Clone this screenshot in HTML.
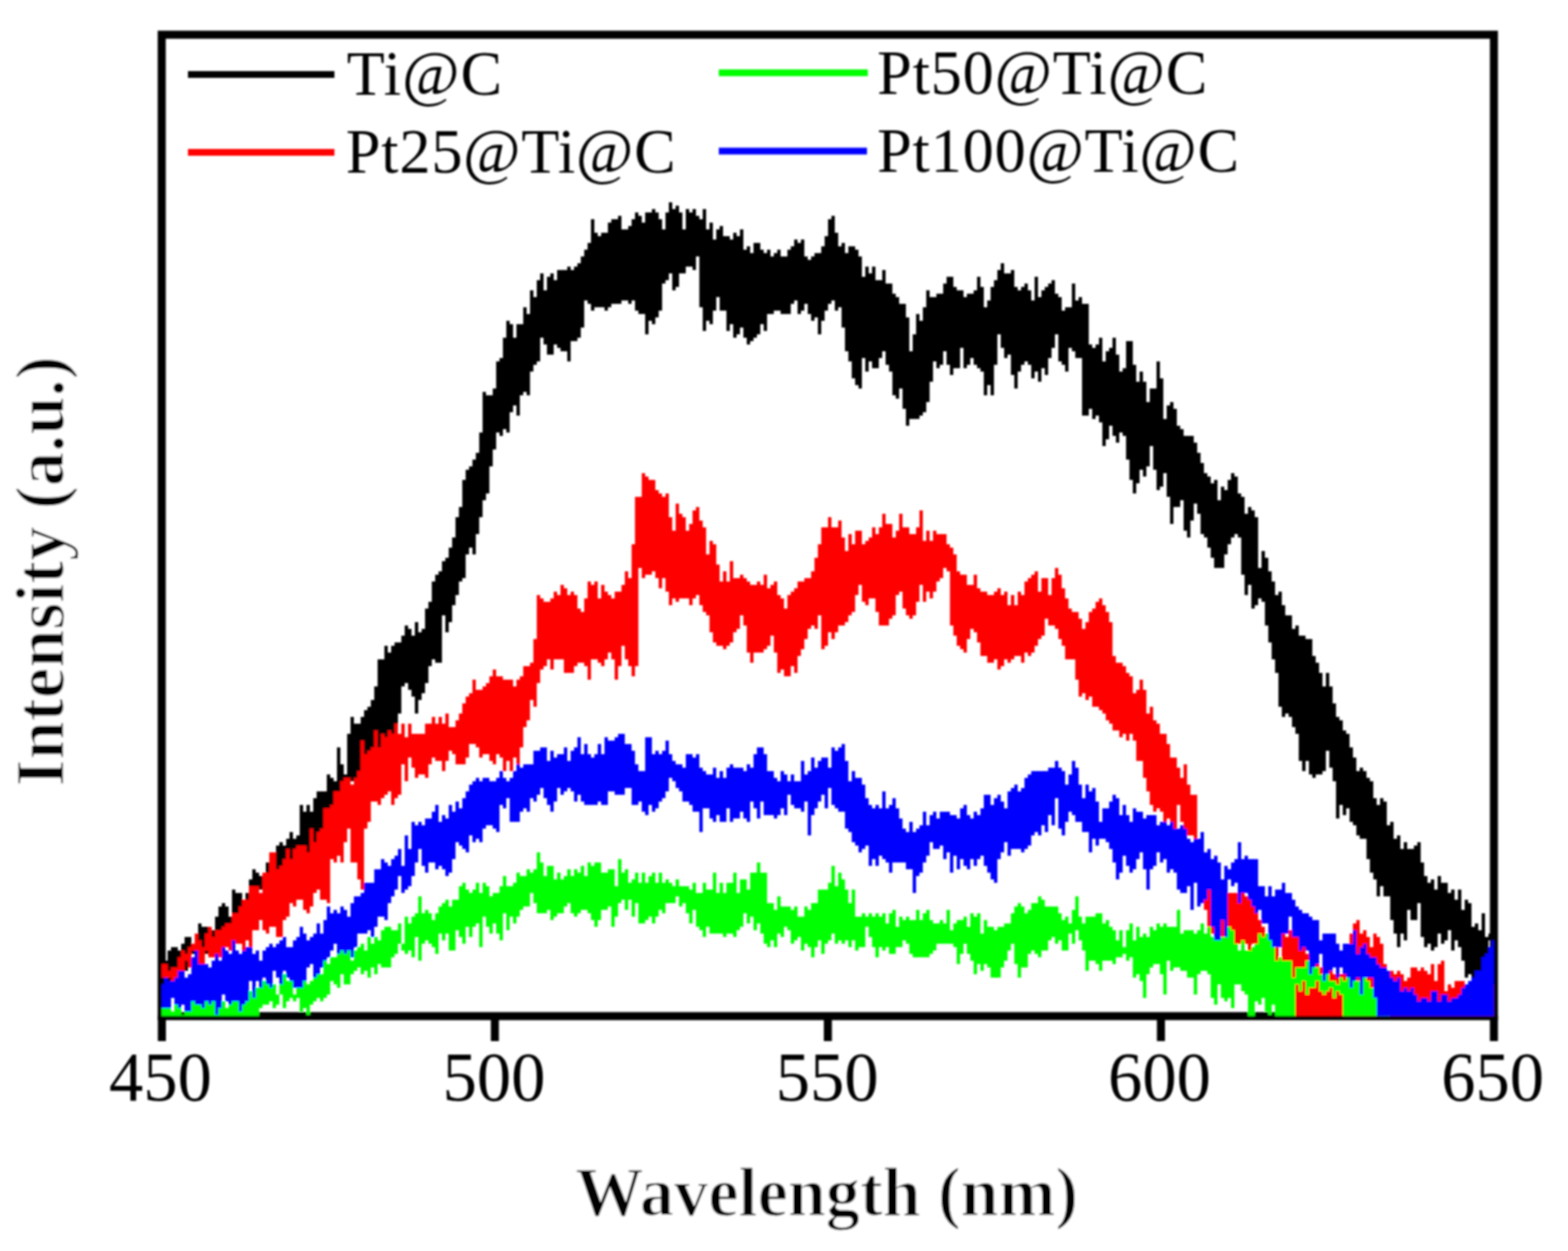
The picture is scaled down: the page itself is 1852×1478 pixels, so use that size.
<!DOCTYPE html>
<html><head><meta charset="utf-8">
<style>
html,body{margin:0;padding:0;background:#fff;}
body{width:1852px;height:1478px;overflow:hidden;}
svg{display:block;}
.tl{font-family:"Liberation Serif",serif;font-size:83px;text-anchor:middle;fill:#000;}
.lg{font-family:"Liberation Serif",serif;font-size:73.5px;fill:#000;}
.ax{font-family:"Liberation Serif",serif;font-size:82px;font-weight:bold;fill:#000;stroke:#fff;stroke-width:1.5px;paint-order:normal;}
</style></head>
<body>
<svg width="1852" height="1478" viewBox="0 0 1852 1478">
<rect width="1852" height="1478" fill="#fff"/>
<defs><filter id="soft" filterUnits="userSpaceOnUse" x="0" y="0" width="1852" height="1478"><feGaussianBlur stdDeviation="1"/></filter></defs>
<g filter="url(#soft)">
<defs><clipPath id="pa"><rect x="191" y="41" width="1573.5" height="1159.5"/></clipPath></defs>
<rect x="191" y="41" width="1573.5" height="1159.5" fill="none" stroke="#000" stroke-width="9.5"/>
<rect x="186.45" y="1200" width="9.5" height="30" fill="#000"/>
<rect x="579.75" y="1200" width="9.5" height="30" fill="#000"/>
<rect x="973.05" y="1200" width="9.5" height="30" fill="#000"/>
<rect x="1366.45" y="1200" width="9.5" height="30" fill="#000"/>
<rect x="1759.75" y="1200" width="9.5" height="30" fill="#000"/>
<g clip-path="url(#pa)">
<path fill="#000000" d="M186 1131H190V1135H194V1135H198V1123H202V1119H206V1119H210V1123H214V1115H218V1107H222V1107H226V1119H230V1119H234V1091H238V1095H242V1095H246V1099H250V1099H254V1083H258V1071H262V1067H266V1071H270V1083H274V1051H278V1055H282V1055H286V1075H290V1055H294V1039H298V1027H302V1031H306V1035H310V1031H314V1019H318V1019H322V1011H326V999H330V995H334V999H338V991H342V983H346V991H350V987H354V951H358V959H362V951H366V959H370V943H374V935H378V935H382V935H386V915H390V919H394V923H398V883H402V903H406V915H410V867H414V847H418V855H422V855H426V847H430V839H434V835H438V827H442V811H446V779H450V779H454V763H458V771H462V763H466V759H470V759H474V751H478V739H482V743H486V751H490V735H494V747H498V743H502V719H506V711H510V687H514V679H518V675H522V663H526V659H530V647H534V635H538V611H542V599H546V567H550V555H554V551H558V543H562V535H566V511H570V463H574V467H578V467H582V459H586V427H590V423H594V399H598V379H602V383H606V399H610V383H614V383H618V363H622V371H626V343H630V351H634V331H638V323H642V343H646V327H650V323H654V331H658V319H662V319H666V319H670V315H674V319H678V315H682V311H686V303H690V295H694V287H698V259H702V275H706V279H710V275H714V275H718V263H722V259H726V259H730V255H734V271H738V271H742V267H746V259H750V251H754V255H758V263H762V251H766V251H770V247H774V251H778V259H782V271H786V251H790V239H794V247H798V243H802V251H806V271H810V247H814V251H818V247H822V255H826V259H830V247H834V271H838V263H842V283H846V271H850V267H854V279H858V279H862V283H866V275H870V279H874V271H878V295H882V291H886V299H890V287H894V287H898V295H902V299H906V295H910V303H914V299H918V295H922V303H926V303H930V295H934V291H938V283H942V287H946V283H950V303H954V307H958V303H962V299H966V299H970V291H974V279H978V259H982V255H986V275H990V291H994V287H998V299H1002V291H1006V291H1010V295H1014V303H1018V327H1022V315H1026V323H1030V315H1034V331H1038V331H1042V319H1046V335H1050V335H1054V347H1058V351H1062V359H1066V359H1070V375H1074V415H1078V395H1082V371H1086V379H1090V363H1094V343H1098V351H1102V351H1106V347H1110V347H1114V335H1118V327H1122V327H1126V339H1130V343H1134V343H1138V351H1142V347H1146V347H1150V343H1154V327H1158V339H1162V363H1166V355H1170V339H1174V331H1178V319H1182V311H1186V323H1190V323H1194V319H1198V339H1202V343H1206V339H1210V335H1214V343H1218V355H1222V327H1226V351H1230V343H1234V339H1238V335H1242V331H1246V347H1250V351H1254V367H1258V363H1262V363H1266V335H1270V355H1274V351H1278V359H1282V359H1286V407H1290V411H1294V407H1298V399H1302V427H1306V415H1310V411H1314V399H1318V419H1322V439H1326V435H1330V403H1334V403H1338V431H1342V451H1346V439H1350V451H1354V475H1358V459H1362V459H1366V427H1370V447H1374V495H1378V479H1382V475H1386V483H1390V503H1394V507H1398V515H1402V515H1406V515H1410V523H1414V535H1418V547H1422V559H1426V563H1430V571H1434V567H1438V591H1442V575H1446V579H1450V567H1454V559H1458V563H1462V583H1466V587H1470V607H1474V599H1478V603H1482V611H1486V671H1490V651H1494V659H1498V675H1502V687H1506V703H1510V699H1514V715H1518V727H1522V727H1526V743H1530V739H1534V751H1538V751H1542V755H1546V755H1550V775H1554V783H1558V795H1562V811H1566V795H1570V811H1574V831H1578V847H1582V851H1586V863H1590V867H1594V883H1598V895H1602V911H1606V907H1610V911H1614V919H1618V923H1622V943H1626V951H1630V943H1634V947H1638V975H1642V971H1646V991H1650V987H1654V1003H1658V995H1662V1003H1666V1003H1670V999H1674V995H1678V1019H1682V1035H1686V1043H1690V1039H1694V1051H1698V1035H1702V1043H1706V1043H1710V1055H1714V1051H1718V1063H1722V1051H1726V1075H1730V1063H1734V1067H1738V1095H1742V1091H1746V1099H1750V1079H1754V1107H1758V1103H1762V1091H1766V1111H1762V1111H1758V1139H1754V1147H1750V1147H1746V1155H1742V1155H1738V1151H1734V1155H1730V1135H1726V1119H1722V1111H1718V1123H1714V1099H1710V1111H1706V1115H1702V1103H1698V1119H1694V1123H1690V1115H1686V1119H1682V1107H1678V1067H1674V1087H1670V1087H1666V1075H1662V1111H1658V1103H1654V1119H1650V1103H1646V1087H1642V1059H1638V1059H1634V1047H1630V1059H1626V1039H1622V1031H1618V1015H1614V991H1610V991H1606V987H1602V975H1598V971H1594V955H1590V963H1586V951H1582V967H1578V923H1574V907H1570V887H1566V911H1562V915H1558V915H1554V919H1550V915H1546V899H1542V911H1538V899H1534V867H1530V859H1526V847H1522V843H1518V847H1514V835H1510V795H1506V779H1502V759H1498V739H1494V711H1490V707H1486V715H1482V719H1478V691H1474V703H1470V679H1466V635H1462V631H1458V635H1454V643H1450V655H1446V671H1442V671H1438V671H1434V659H1430V647H1426V635H1422V631H1418V607H1414V595H1410V615H1406V635H1402V627H1398V591H1394V599H1390V599H1386V619H1382V587H1378V559H1374V575H1370V579H1366V555H1362V527H1358V551H1354V563H1350V555H1346V571H1342V583H1338V567H1334V543H1330V515H1326V511H1322V523H1318V515H1314V503H1310V519H1306V527H1302V499H1298V491H1294V495H1290V483H1286V491H1282V491H1278V423H1274V423H1270V415H1266V411H1262V439H1258V431H1254V427H1250V395H1246V411H1242V423H1238V443H1234V435H1230V451H1226V439H1222V447H1218V431H1214V427H1210V431H1206V439H1202V459H1198V443H1194V419H1190V423H1186V411H1182V395H1178V431H1174V467H1170V455H1166V467H1162V439H1158V435H1154V431H1150V423H1146V431H1142V435H1138V411H1134V435H1130V435H1126V443H1122V431H1118V415H1114V431H1110V435H1106V427H1102V451H1098V475H1094V487H1090V491H1086V495H1082V495H1078V495H1074V503H1070V483H1066V459H1062V471H1058V467H1054V439H1050V431H1046V415H1042V423H1038V435H1034V435H1030V427H1026V439H1022V423H1018V459H1014V455H1010V447H1006V427H1002V415H998V387H994V363H990V367H986V355H982V359H978V367H974V379H970V395H966V375H962V379H958V371H954V359H950V367H946V371H942V355H938V359H934V371H930V371H926V371H922V367H918V367H914V371H910V371H906V391H902V383H898V395H894V399H890V403H886V407H882V399H878V387H874V395H870V399H866V383H862V391H858V367H854V367H850V351H846V367H842V383H838V379H834V391H830V363H826V303H822V319H818V315H814V315H810V323H806V323H802V339H798V343H794V323H790V331H786V335H782V367H778V375H774V383H770V379H766V395H762V371H758V371H754V367H750V355H746V359H742V355H738V355H734V359H730V359H726V359H722V363H718V367H714V363H710V363H706V363H702V367H698V359H694V355H690V387H686V399H682V403H678V403H674V427H670V415H666V415H662V411H658V407H654V419H650V419H646V407H642V399H638V427H634V431H630V439H626V467H622V463H618V467H614V491H610V479H606V487H602V511H598V507H594V515H590V511H586V531H582V551H578V583H574V591H570V611H566V631H562V655H558V647H554V655H550V683H546V687H542V703H538V715H534V735H530V747H526V727H522V783H518V783H514V779H510V787H506V807H502V819H498V827H494V843H490V823H486V815H482V807H478V811H474V843H470V867H466V875H462V875H458V891H454V887H450V887H446V883H442V887H438V887H434V903H430V903H426V927H422V935H418V923H414V935H410V935H406V939H402V943H398V951H394V959H390V963H386V971H382V995H378V999H374V1011H370V1019H366V1015H362V1023H358V1011H354V1027H350V1015H346V1023H342V1019H338V1019H334V1043H330V1035H326V1039H322V1051H318V1043H314V1055H310V1051H306V1055H302V1071H298V1071H294V1087H290V1083H286V1079H282V1095H278V1091H274V1107H270V1095H266V1103H262V1107H258V1115H254V1111H250V1123H246V1127H242V1131H238V1119H234V1135H230V1127H226V1131H222V1147H218V1143H214V1155H210V1147H206V1155H202V1159H198V1159H194V1151H190V1155H186Z"/>
<path fill="#ff0000" d="M186 1151H190V1139H194V1139H198V1147H202V1143H206V1143H210V1131H214V1123H218V1127H222V1119H226V1115H230V1103H234V1111H238V1119H242V1103H246V1095H250V1107H254V1099H258V1099H262V1095H266V1091H270V1091H274V1079H278V1079H282V1071H286V1063H290V1063H294V1047H298V1047H302V1047H306V1055H310V1031H314V1031H318V1007H322V1007H326V1027H330V1023H334V1015H338V1003H342V1015H346V1003H350V999H354V999H358V999H362V1007H366V979H370V995H374V983H378V979H382V955H386V955H390V951H394V935H398V935H402V923H406V919H410V919H414V927H418V919H422V911H426V875H430V891H434V887H438V883H442V863H446V883H450V867H454V871H458V863H462V867H466V855H470V867H474V855H478V871H482V855H486V867H490V867H494V867H498V867H502V855H506V855H510V847H514V855H518V847H522V855H526V843H530V859H534V859H538V851H542V843H546V831H550V823H554V819H558V803H562V815H566V815H570V811H574V807H578V799H582V791H586V799H590V799H594V803H598V803H602V803H606V811H610V803H614V799H618V787H622V787H626V783H630V755H634V703H638V707H642V711H646V711H650V707H654V699H658V703H662V691H666V695H670V703H674V699H678V703H682V719H686V723H690V707H694V687H698V691H702V687H706V707H710V691H714V699H718V703H722V707H726V699H730V699H734V691H738V675H742V683H746V643H750V587H754V587H758V559H762V563H766V567H770V567H774V579H778V583H782V587H786V583H790V611H794V627H798V595H802V607H806V611H810V627H814V619H818V603H822V599H826V615H830V623H834V655H838V639H842V643H846V667H850V687H854V675H858V687H862V663H866V683H870V683H874V679H878V683H882V687H886V691H890V691H894V687H898V691H902V679H906V695H910V691H914V687H918V703H922V707H926V719H930V703H934V699H938V695H942V687H946V687H950V683H954V683H958V675H962V659H966V643H970V623H974V623H978V611H982V623H986V623H990V615H994V635H998V651H1002V631H1006V643H1010V627H1014V627H1018V643H1022V639H1026V635H1030V623H1034V631H1038V623H1042V607H1046V619H1050V619H1054V635H1058V627H1062V607H1066V623H1070V623H1074V631H1078V631H1082V623H1086V603H1090V639H1094V627H1098V639H1102V627H1106V631H1110V631H1114V631H1118V643H1122V647H1126V655H1130V675H1134V679H1138V679H1142V691H1146V691H1150V679H1154V695H1158V699H1162V699H1166V703H1170V703H1174V699H1178V695H1182V703H1186V699H1190V715H1194V703H1198V715H1202V699H1206V703H1210V687H1214V683H1218V679H1222V675H1226V699H1230V683H1234V683H1238V703H1242V683H1246V671H1250V679H1254V695H1258V707H1262V719H1266V723H1270V723H1274V731H1278V743H1282V735H1286V723H1290V719H1294V711H1298V707H1302V715H1306V723H1310V735H1314V775H1318V783H1322V783H1326V787H1330V795H1334V799H1338V819H1342V815H1346V803H1350V815H1354V843H1358V835H1362V851H1366V855H1370V867H1374V867H1378V879H1382V895H1386V895H1390V907H1394V919H1398V903H1402V927H1406V939H1410V939H1414V991H1418V999H1422V1011H1426V1019H1430V1047H1434V1043H1438V1043H1442V1047H1446V1055H1450V1055H1454V1055H1458V1055H1462V1055H1466V1051H1470V1059H1474V1047H1478V1071H1482V1079H1486V1087H1490V1095H1494V1107H1498V1095H1502V1111H1506V1099H1510V1107H1514V1083H1518V1107H1522V1099H1526V1103H1530V1107H1534V1119H1538V1115H1542V1127H1546V1135H1550V1143H1554V1139H1558V1143H1562V1147H1566V1151H1570V1147H1574V1151H1578V1151H1582V1151H1586V1151H1590V1131H1594V1103H1598V1091H1602V1087H1606V1103H1610V1099H1614V1107H1618V1119H1622V1103H1626V1107H1630V1115H1634V1139H1638V1147H1642V1147H1646V1151H1650V1147H1654V1151H1658V1159H1662V1155H1666V1143H1670V1143H1674V1147H1678V1143H1682V1147H1686V1151H1690V1139H1694V1159H1698V1139H1702V1135H1706V1171H1710V1163H1714V1167H1718V1159H1722V1159H1726V1159H1730V1163H1734V1167H1738V1159H1742V1171H1746V1175H1750V1179H1754V1171H1758V1167H1762V1163H1766V1207H1762V1207H1758V1207H1754V1207H1750V1207H1746V1207H1742V1207H1738V1207H1734V1207H1730V1207H1726V1207H1722V1207H1718V1207H1714V1207H1710V1207H1706V1207H1702V1207H1698V1207H1694V1207H1690V1207H1686V1207H1682V1207H1678V1207H1674V1207H1670V1207H1666V1207H1662V1207H1658V1207H1654V1207H1650V1207H1646V1207H1642V1207H1638V1207H1634V1207H1630V1207H1626V1207H1622V1207H1618V1207H1614V1207H1610V1207H1606V1207H1602V1207H1598V1207H1594V1207H1590V1207H1586V1207H1582V1207H1578V1207H1574V1207H1570V1207H1566V1207H1562V1207H1558V1207H1554V1207H1550V1207H1546V1207H1542V1207H1538V1207H1534V1207H1530V1183H1526V1143H1522V1143H1518V1159H1514V1119H1510V1135H1506V1123H1502V1123H1498V1119H1494V1107H1490V1111H1486V1115H1482V1115H1478V1123H1474V1115H1470V1115H1466V1115H1462V1115H1458V1107H1454V1107H1450V1111H1446V1107H1442V1119H1438V1107H1434V1103H1430V1103H1426V1075H1422V1063H1418V999H1414V999H1410V987H1406V987H1402V979H1398V971H1394V951H1390V983H1386V971H1382V967H1378V975H1374V959H1370V955H1366V959H1362V951H1358V935H1354V919H1350V899H1346V899H1342V875H1338V867H1334V875H1330V867H1326V871H1322V863H1318V863H1314V855H1310V851H1306V843H1302V839H1298V835H1294V835H1290V823H1286V827H1282V819H1278V823H1274V803H1270V779H1266V779H1262V779H1258V763H1254V755H1250V743H1246V739H1242V739H1238V731H1234V751H1230V755H1226V763H1222V771H1218V775H1214V771H1210V783H1206V775H1202V775H1198V779H1194V783H1190V779H1186V787H1182V791H1178V779H1174V783H1170V783H1166V775H1162V775H1158V759H1154V747H1150V743H1146V755H1142V771H1138V767H1134V763H1130V751H1126V739H1122V675H1118V671H1114V683H1110V687H1106V699H1102V707H1098V699H1094V711H1090V691H1086V711H1082V727H1078V731H1074V727H1070V719H1066V699H1062V703H1058V727H1054V731H1050V739H1046V739H1042V739H1038V723H1034V707H1030V707H1026V715H1022V711H1018V691H1014V703H1010V723H1006V727H1002V735H998V739H994V739H990V747H986V755H982V747H978V763H974V767H970V727H966V743H962V739H958V743H954V755H950V767H946V775H942V795H938V787H934V799H930V799H926V791H922V795H918V771H914V751H910V763H906V767H902V771H898V771H894V771H890V783H886V771H882V739H878V727H874V743H870V747H866V759H862V763H858V767H854V763H850V763H846V759H842V747H838V727H834V723H830V715H826V703H822V707H818V715H814V707H810V707H806V707H802V711H798V707H794V715H790V699H786V683H782V695H778V683H774V675H770V679H766V679H762V683H758V671H754V787H750V799H746V787H742V779H738V763H734V787H730V803H726V779H722V771H718V779H714V787H710V783H706V779H702V779H698V803H694V787H690V783H686V783H682V787H678V795H674V795H670V795H666V779H662V779H658V779H654V791H650V779H646V787H642V791H638V807H634V835H630V827H626V851H622V859H618V883H614V911H610V895H606V911H602V899H598V911H594V895H590V891H586V903H582V899H578V891H574V891H570V895H566V883H562V879H558V879H554V895H550V903H546V903H542V903H538V891H534V887H530V899H526V911H522V899H518V899H514V895H510V903H506V919H502V915H498V915H494V919H490V907H486V895H482V923H478V903H474V939H470V943H466V951H462V935H458V939H454V943H450V951H446V947H442V947H438V971H434V979H430V1051H426V1039H422V1019H418V1019H414V979H410V995H406V1019H402V1011H398V1019H394V1015H390V1067H386V1063H382V1063H378V1051H374V1055H370V1071H366V1079H362V1075H358V1063H354V1063H350V1071H346V1067H342V1083H338V1087H334V1107H330V1107H326V1095H322V1095H318V1103H314V1099H310V1087H306V1099H302V1099H298V1127H294V1111H290V1123H286V1115H282V1115H278V1123H274V1123H270V1119H266V1131H262V1131H258V1127H254V1131H250V1131H246V1123H242V1151H238V1151H234V1135H230V1123H226V1143H222V1135H218V1151H214V1151H210V1163H206V1163H202V1155H198V1159H194V1155H190V1171H186Z"/>
<path fill="#00ff00" d="M186 1191H190V1179H194V1179H198V1191H202V1195H206V1175H210V1191H214V1199H218V1183H222V1187H226V1171H230V1159H234V1175H238V1171H242V1171H246V1183H250V1183H254V1167H258V1187H262V1183H266V1191H270V1187H274V1179H278V1175H282V1155H286V1175H290V1171H294V1171H298V1171H302V1167H306V1163H310V1159H314V1163H318V1167H322V1163H326V1175H330V1163H334V1151H338V1159H342V1155H346V1175H350V1163H354V1163H358V1159H362V1163H366V1159H370V1131H374V1147H378V1151H382V1131H386V1139H390V1131H394V1131H398V1127H402V1123H406V1123H410V1119H414V1135H418V1123H422V1119H426V1115H430V1123H434V1107H438V1115H442V1107H446V1111H450V1099H454V1095H458V1095H462V1099H466V1099H470V1091H474V1115H478V1083H482V1091H486V1083H490V1079H494V1059H498V1079H502V1075H506V1079H510V1087H514V1079H518V1071H522V1067H526V1063H530V1071H534V1063H538V1063H542V1047H546V1043H550V1051H554V1055H558V1051H562V1043H566V1055H570V1043H574V1047H578V1059H582V1055H586V1055H590V1047H594V1035H598V1047H602V1047H606V1043H610V1031H614V1035H618V1035H622V1027H626V1031H630V1027H634V1007H638V1019H642V1035H646V1023H650V1023H654V1039H658V1031H662V1039H666V1035H670V1027H674V1035H678V1027H682V1031H686V1023H690V1035H694V1019H698V1023H702V1019H706V1019H710V1031H714V1031H718V1027H722V1027H726V1047H730V1015H734V1031H738V1027H742V1043H746V1039H750V1031H754V1043H758V1031H762V1043H766V1035H770V1031H774V1043H778V1031H782V1043H786V1039H790V1043H794V1047H798V1039H802V1047H806V1047H810V1047H814V1051H818V1043H822V1055H826V1055H830V1043H834V1051H838V1051H842V1031H846V1055H850V1043H854V1055H858V1043H862V1043H866V1031H870V1055H874V1039H878V1039H882V1051H886V1031H890V1031H894V1019H898V1031H902V1031H906V1067H910V1067H914V1075H918V1059H922V1071H926V1071H930V1071H934V1075H938V1071H942V1083H946V1083H950V1071H954V1075H958V1067H962V1067H966V1051H970V1051H974V1051H978V1043H982V1023H986V1047H990V1031H994V1039H998V1051H1002V1067H1006V1051H1010V1083H1014V1083H1018V1079H1022V1083H1026V1079H1030V1083H1034V1079H1038V1083H1042V1079H1046V1091H1050V1079H1054V1075H1058V1095H1062V1083H1066V1087H1070V1083H1074V1087H1078V1087H1082V1075H1086V1087H1090V1079H1094V1075H1098V1087H1102V1091H1106V1091H1110V1087H1114V1091H1118V1075H1122V1099H1126V1091H1130V1087H1134V1087H1138V1083H1142V1095H1146V1079H1150V1083H1154V1079H1158V1103H1162V1087H1166V1095H1170V1095H1174V1099H1178V1095H1182V1095H1186V1091H1190V1091H1194V1079H1198V1071H1202V1067H1206V1071H1210V1079H1214V1075H1218V1067H1222V1067H1226V1059H1230V1063H1234V1071H1238V1071H1242V1071H1246V1071H1250V1079H1254V1087H1258V1083H1262V1091H1266V1075H1270V1059H1274V1083H1278V1091H1282V1083H1286V1083H1290V1083H1294V1079H1298V1079H1302V1091H1306V1087H1310V1095H1314V1099H1318V1111H1322V1099H1326V1119H1330V1099H1334V1091H1338V1111H1342V1095H1346V1107H1350V1103H1354V1107H1358V1095H1362V1099H1366V1091H1370V1095H1374V1091H1378V1095H1382V1095H1386V1095H1390V1075H1394V1103H1398V1099H1402V1099H1406V1099H1410V1103H1414V1099H1418V1091H1422V1103H1426V1095H1430V1107H1434V1107H1438V1091H1442V1107H1446V1103H1450V1095H1454V1099H1458V1115H1462V1123H1466V1111H1470V1123H1474V1123H1478V1119H1482V1115H1486V1103H1490V1107H1494V1103H1498V1103H1502V1107H1506V1135H1510V1131H1514V1135H1518V1135H1522V1135H1526V1155H1530V1143H1534V1143H1538V1143H1542V1135H1546V1143H1550V1143H1554V1143H1558V1151H1562V1147H1566V1147H1570V1159H1574V1159H1578V1163H1582V1155H1586V1159H1590V1155H1594V1159H1598V1155H1602V1159H1606V1167H1610V1155H1614V1159H1618V1167H1622V1179H1626V1191H1630V1191H1634V1191H1638V1187H1642V1207H1638V1207H1634V1207H1630V1207H1626V1207H1622V1207H1618V1207H1614V1207H1610V1207H1606V1207H1602V1207H1598V1207H1594V1207H1590V1207H1586V1175H1582V1171H1578V1179H1574V1167H1570V1171H1566V1175H1562V1171H1558V1159H1554V1167H1550V1167H1546V1175H1542V1159H1538V1171H1534V1163H1530V1207H1526V1207H1522V1207H1518V1207H1514V1207H1510V1207H1506V1187H1502V1199H1498V1195H1494V1179H1490V1187H1486V1183H1482V1207H1478V1207H1474V1175H1470V1171H1466V1163H1462V1163H1458V1191H1454V1179H1450V1183H1446V1179H1442V1163H1438V1187H1434V1179H1430V1151H1426V1147H1422V1147H1418V1151H1414V1175H1410V1155H1406V1155H1402V1147H1398V1147H1394V1143H1390V1143H1386V1147H1382V1135H1378V1175H1374V1151H1370V1139H1366V1139H1362V1143H1358V1151H1354V1179H1350V1159H1346V1151H1342V1155H1338V1131H1334V1135H1330V1127H1326V1131H1322V1131H1318V1139H1314V1135H1310V1135H1306V1135H1302V1147H1298V1139H1294V1135H1290V1135H1286V1147H1282V1123H1278V1111H1274V1099H1270V1115H1266V1103H1262V1123H1258V1123H1254V1111H1250V1115H1246V1107H1242V1111H1238V1123H1234V1123H1230V1131H1226V1127H1222V1123H1218V1127H1214V1143H1210V1143H1206V1155H1202V1139H1198V1115H1194V1123H1190V1135H1186V1143H1182V1155H1178V1155H1174V1155H1170V1143H1166V1139H1162V1147H1158V1139H1154V1151H1150V1135H1146V1127H1142V1115H1138V1127H1134V1139H1130V1119H1126V1115H1122V1115H1118V1115H1114V1115H1110V1115H1106V1123H1102V1127H1098V1131H1094V1131H1090V1131H1086V1131H1082V1131H1078V1127H1074V1115H1070V1111H1066V1119H1062V1119H1058V1127H1054V1127H1050V1119H1046V1123H1042V1119H1038V1131H1034V1119H1030V1107H1026V1095H1022V1119H1018V1119H1014V1123H1010V1111H1006V1119H1002V1111H998V1115H994V1111H990V1115H986V1103H982V1111H978V1115H974V1127H970V1111H966V1119H962V1131H958V1119H954V1115H950V1123H946V1107H942V1111H938V1115H934V1099H930V1095H926V1107H922V1103H918V1119H914V1111H910V1119H906V1115H902V1103H898V1091H894V1099H890V1083H886V1091H882V1079H878V1095H874V1099H870V1107H866V1103H862V1103H858V1107H854V1103H850V1103H846V1103H842V1103H838V1095H834V1107H830V1099H826V1095H822V1075H818V1091H814V1079H810V1067H806V1071H802V1059H798V1067H794V1067H790V1067H786V1079H782V1075H778V1083H774V1091H770V1083H766V1087H762V1091H758V1091H754V1067H750V1083H746V1063H742V1075H738V1063H734V1067H730V1083H726V1095H722V1071H718V1075H714V1075H710V1087H706V1095H702V1087H698V1079H694V1075H690V1075H686V1079H682V1083H678V1079H674V1067H670V1071H666V1079H662V1079H658V1083H654V1087H650V1075H646V1079H642V1079H638V1079H634V1067H630V1055H626V1071H622V1071H618V1075H614V1083H610V1091H606V1083H602V1099H598V1079H594V1111H590V1103H586V1091H582V1103H578V1095H574V1083H570V1119H566V1091H562V1095H558V1107H554V1095H550V1115H546V1107H542V1099H538V1123H534V1123H530V1103H526V1111H522V1103H518V1127H514V1119H510V1115H506V1111H502V1115H498V1135H494V1107H490V1131H486V1123H482V1127H478V1123H474V1115H470V1127H466V1131H462V1143H458V1143H454V1143H450V1139H446V1151H442V1143H438V1155H434V1147H430V1151H426V1143H422V1147H418V1151H414V1163H410V1163H406V1151H402V1167H398V1163H394V1159H390V1175H386V1179H382V1183H378V1179H374V1183H370V1187H366V1199H362V1191H358V1195H354V1179H350V1183H346V1179H342V1183H338V1191H334V1175H330V1187H326V1191H322V1183H318V1187H314V1187H310V1191H306V1207H302V1207H298V1207H294V1207H290V1207H286V1207H282V1207H278V1207H274V1207H270V1207H266V1207H262V1207H258V1207H254V1207H250V1207H246V1207H242V1207H238V1207H234V1207H230V1207H226V1207H222V1207H218V1207H214V1207H210V1207H206V1207H202V1207H198V1207H194V1207H190V1207H186Z"/>
<path fill="#0000ff" d="M186 1163H190V1163H194V1155H198V1159H202V1159H206V1155H210V1147H214V1147H218V1155H222V1151H226V1131H230V1123H234V1139H238V1139H242V1139H246V1143H250V1135H254V1127H258V1135H262V1119H266V1123H270V1127H274V1111H278V1123H282V1127H286V1123H290V1119H294V1119H298V1127H302V1123H306V1135H310V1123H314V1119H318V1115H322V1119H326V1115H330V1111H334V1107H338V1119H342V1119H346V1111H350V1107H354V1095H358V1103H362V1111H366V1107H370V1103H374V1091H378V1103H382V1087H386V1071H390V1079H394V1075H398V1079H402V1071H406V1075H410V1083H414V1067H418V1059H422V1059H426V1055H430V1043H434V1043H438V1043H442V1027H446V1027H450V1015H454V1019H458V1023H462V1015H466V1011H470V1003H474V1023H478V987H482V1003H486V971H490V975H494V971H498V975H502V967H506V967H510V959H514V951H518V971H522V963H526V967H530V951H534V959H538V947H542V955H546V943H550V935H554V927H558V923H562V919H566V923H570V919H574V919H578V923H582V923H586V919H590V911H594V919H598V923H602V919H606V911H610V903H614V907H618V903H622V903H626V903H630V887H634V887H638V883H642V883H646V899H650V887H654V895H658V891H662V891H666V883H670V899H674V887H678V883H682V871H686V891H690V879H694V891H698V895H702V891H706V879H710V891H714V871H718V875H722V875H726V871H730V867H734V867H738V879H742V879H746V887H750V903H754V911H758V911H762V871H766V871H770V891H774V887H778V891H782V887H786V875H790V891H794V899H798V903H802V903H806V907H810V891H814V891H818V895H822V891H826V907H830V911H834V915H838V915H842V907H846V919H850V911H854V919H858V907H862V903H866V907H870V907H874V907H878V911H882V903H886V907H890V891H894V883H898V883H902V891H906V911H910V911H914V919H918V923H922V911H926V915H930V923H934V915H938V923H942V923H946V899H950V915H954V911H958V895H962V907H966V899H970V895H974V895H978V907H982V883H986V887H990V883H994V879H998V899H1002V923H1006V911H1010V919H1014V919H1018V927H1022V943H1026V951H1030V955H1034V951H1038V955H1042V935H1046V955H1050V951H1054V943H1058V955H1062V967H1066V979H1070V983H1074V971H1078V983H1082V979H1086V975H1090V959H1094V975H1098V963H1102V959H1106V967H1110V959H1114V959H1118V959H1122V963H1126V963H1130V967H1134V955H1138V951H1142V963H1146V967H1150V959H1154V963H1158V955H1162V939H1166V939H1170V951H1174V943H1178V939H1182V947H1186V955H1190V935H1194V931H1198V927H1202V935H1206V931H1210V919H1214V915H1218V911H1222V911H1226V911H1230V911H1234V911H1238V907H1242V907H1246V899H1250V907H1254V911H1258V927H1262V915H1266V899H1270V907H1274V927H1278V943H1282V927H1286V935H1290V931H1294V947H1298V971H1302V955H1306V955H1310V947H1314V939H1318V943H1322V963H1326V951H1330V963H1334V971H1338V955H1342V959H1346V959H1350V967H1354V963H1358V963H1362V963H1366V975H1370V971H1374V971H1378V975H1382V971H1386V979H1390V979H1394V975H1398V979H1402V991H1406V995H1410V991H1414V991H1418V983H1422V1007H1426V1003H1430V1015H1434V1011H1438V1019H1442V1039H1446V1023H1450V1027H1454V1019H1458V1015H1462V995H1466V1015H1470V1011H1474V1015H1478V1015H1482V1015H1486V1047H1490V1047H1494V1059H1498V1047H1502V1059H1506V1051H1510V1051H1514V1043H1518V1055H1522V1055H1526V1063H1530V1071H1534V1075H1538V1079H1542V1079H1546V1083H1550V1087H1554V1087H1558V1111H1562V1103H1566V1103H1570V1103H1574V1103H1578V1115H1582V1123H1586V1115H1590V1115H1594V1115H1598V1099H1602V1127H1606V1119H1610V1115H1614V1127H1618V1131H1622V1131H1626V1139H1630V1143H1634V1143H1638V1147H1642V1155H1646V1159H1650V1155H1654V1171H1658V1167H1662V1171H1666V1167H1670V1175H1674V1183H1678V1179H1682V1179H1686V1183H1690V1171H1694V1171H1698V1183H1702V1175H1706V1175H1710V1183H1714V1179H1718V1179H1722V1175H1726V1167H1730V1163H1734V1159H1738V1155H1742V1147H1746V1147H1750V1131H1754V1127H1758V1119H1762V1111H1766V1207H1762V1207H1758V1207H1754V1207H1750V1207H1746V1207H1742V1207H1738V1207H1734V1207H1730V1207H1726V1207H1722V1207H1718V1207H1714V1207H1710V1207H1706V1207H1702V1207H1698V1207H1694V1207H1690V1207H1686V1207H1682V1207H1678V1207H1674V1207H1670V1207H1666V1207H1662V1207H1658V1207H1654V1207H1650V1207H1646V1207H1642V1207H1638V1207H1634V1207H1630V1207H1626V1179H1622V1155H1618V1155H1614V1155H1610V1175H1606V1155H1602V1159H1598V1167H1594V1155H1590V1151H1586V1143H1582V1155H1578V1143H1574V1147H1570V1151H1566V1159H1562V1127H1558V1139H1554V1143H1550V1151H1546V1123H1542V1119H1538V1123H1534V1107H1530V1107H1526V1083H1522V1103H1518V1103H1514V1119H1510V1119H1506V1119H1502V1111H1498V1091H1494V1091H1490V1075H1486V1079H1482V1071H1478V1063H1474V1055H1470V1055H1466V1067H1462V1043H1458V1047H1454V1039H1450V1107H1446V1087H1442V1111H1438V1111H1434V1095H1430V1051H1426V1063H1422V1067H1418V1071H1414V1043H1410V1075H1406V1047H1402V1055H1398V1055H1394V1051H1390V1031H1386V1027H1382V1031H1378V1015H1374V1019H1370V1007H1366V1023H1362V1027H1358V1051H1354V1027H1350V1007H1346V1015H1342V1027H1338V1031H1334V1023H1330V1011H1326V1031H1322V1039H1318V1019H1314V1003H1310V995H1306V991H1302V991H1298V999H1294V991H1290V1007H1286V983H1282V983H1278V971H1274V971H1270V963H1266V959H1262V971H1258V987H1254V979H1250V943H1246V975H1242V963H1238V983H1234V975H1230V987H1226V983H1222V987H1218V999H1214V1003H1210V1007H1206V1003H1202V1003H1198V1003H1194V1011H1190V995H1186V1007H1182V1015H1178V1043H1174V1039H1170V1031H1166V1023H1162V1011H1158V1015H1154V1023H1150V1015H1146V1027H1142V1023H1138V1015H1134V1027H1130V1011H1126V1031H1122V1007H1118V1015H1114V999H1110V1003H1106V1003H1102V995H1098V1011H1094V1019H1090V1031H1086V1035H1082V1055H1078V1027H1074V1027H1070V1019H1066V1019H1062V1019H1058V1019H1054V1031H1050V1019H1046V1015H1042V1011H1038V1023H1034V1015H1030V1023H1026V999H1022V1003H1018V1007H1014V999H1010V995H1006V983H1002V979H998V959H994V959H990V955H986V951H982V931H978V955H974V939H970V947H966V955H962V963H958V987H954V947H950V959H946V955H942V955H938V951H934V939H930V963H926V955H922V963H918V967H914V963H910V963H906V963H902V947H898V967H894V955H890V947H886V971H882V967H878V959H874V967H870V967H866V971H862V955H858V971H854V971H850V963H846V971H842V967H838V955H834V955H830V983H826V959H822V959H818V951H814V947H810V947H806V935H802V931H798V923H794V919H790V935H786V943H782V947H778V955H774V959H770V951H766V963H762V959H758V947H754V951H750V951H746V931H742V931H738V939H734V939H730V939H726V935H722V935H718V951H714V951H710V947H706V951H702V951H698V951H694V951H690V947H686V939H682V947H678V935H674V931H670V935H666V939H662V931H658V947H654V959H650V951H646V943H642V931H638V939H634V947H630V943H626V959H622V955H618V959H614V971H610V971H606V971H602V943H598V955H594V951H590V983H586V979H582V975H578V975H574V979H570V995H566V991H562V995H558V987H554V1007H550V1003H546V999H542V995H538V1015H534V1031H530V1035H526V1027H522V1023H518V1027H514V1019H510V1019H506V1031H502V1023H498V1003H494V1019H490V1035H486V1047H482V1051H478V1055H474V1035H470V1051H466V1059H462V1067H458V1087H454V1083H450V1083H446V1095H442V1107H438V1099H434V1103H430V1103H426V1103H422V1119H418V1131H414V1123H410V1127H406V1123H402V1127H398V1115H394V1123H390V1131H386V1135H382V1143H378V1151H374V1155H370V1139H366V1143H362V1159H358V1167H354V1167H350V1167H346V1159H342V1155H338V1147H334V1163H330V1155H326V1147H322V1167H318V1163H314V1155H310V1167H306V1159H302V1179H298V1159H294V1183H290V1187H286V1195H282V1183H278V1183H274V1187H270V1183H266V1175H262V1191H258V1199H254V1183H250V1187H246V1183H242V1191H238V1187H234V1187H230V1183H226V1195H222V1195H218V1187H214V1191H210V1187H206V1179H202V1191H198V1191H194V1191H190V1195H186Z"/>
</g>
<rect x="222" y="84" width="173" height="8" fill="#000"/>
<rect x="222" y="176" width="173" height="8" fill="#ff0000"/>
<rect x="849" y="82" width="176" height="8" fill="#00ff00"/>
<rect x="849" y="174.5" width="175" height="8" fill="#0000ff"/>
<text x="409.5" y="111.5" class="lg" textLength="183.5" lengthAdjust="spacing">Ti@C</text>
<text x="408.5" y="204" class="lg" textLength="389.5" lengthAdjust="spacing">Pt25@Ti@C</text>
<text x="1036" y="110.5" class="lg" textLength="390" lengthAdjust="spacing">Pt50@Ti@C</text>
<text x="1036" y="203" class="lg" textLength="427.5" lengthAdjust="spacing">Pt100@Ti@C</text>
<text x="189.5" y="1300" class="tl" textLength="121.5" lengthAdjust="spacingAndGlyphs">450</text>
<text x="583.5" y="1300" class="tl" textLength="121.5" lengthAdjust="spacingAndGlyphs">500</text>
<text x="977" y="1300" class="tl" textLength="121.5" lengthAdjust="spacingAndGlyphs">550</text>
<text x="1369.5" y="1300" class="tl" textLength="121.5" lengthAdjust="spacingAndGlyphs">600</text>
<text x="1763" y="1300" class="tl" textLength="121.5" lengthAdjust="spacingAndGlyphs">650</text>
<text x="976.5" y="1436" class="ax" text-anchor="middle" textLength="594" lengthAdjust="spacingAndGlyphs">Wavelength (nm)</text>
<text transform="translate(75,675) rotate(-90)" class="ax" text-anchor="middle" textLength="508" lengthAdjust="spacingAndGlyphs">Intensity (a.u.)</text>
</g>
</svg>
</body></html>
